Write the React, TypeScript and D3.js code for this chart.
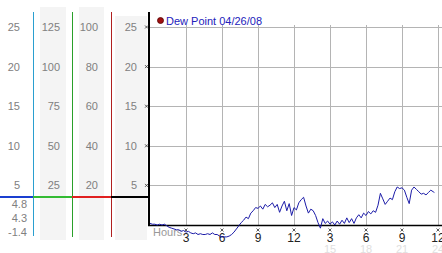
import React from "react";
import * as d3 from "d3";

const W = 442;
const H = 253;

// Dew point series: [hour, value]
const hours: number[] = [
  0.0, 0.2, 0.4, 0.6, 0.8, 1.0, 1.2, 1.4, 1.6, 1.8, 2.0, 2.2, 2.4, 2.6, 2.8, 3.0, 3.2, 3.4, 3.6, 3.8,
  4.0, 4.2, 4.4, 4.6, 4.8, 5.0, 5.2, 5.4, 5.6, 5.8, 6.0, 6.2, 6.4, 6.6, 6.8, 7.0, 7.2, 7.4, 7.6, 7.8,
  8.0, 8.2, 8.4, 8.6, 8.8, 9.0, 9.2, 9.4, 9.6, 9.8, 10.0, 10.2, 10.4, 10.6, 10.8, 11.0, 11.2, 11.4, 11.6, 11.8,
  12.0, 12.2, 12.4, 12.6, 12.8, 13.0, 13.2, 13.4, 13.6, 13.8, 14.0, 14.2, 14.4, 14.6, 14.8, 15.0, 15.2, 15.4, 15.6, 15.8,
  16.0, 16.2, 16.4, 16.6, 16.8, 17.0, 17.2, 17.4, 17.6, 17.8, 18.0, 18.2, 18.4, 18.6, 18.8, 19.0, 19.2, 19.4, 19.6, 19.8,
  20.0, 20.2, 20.4, 20.6, 20.8, 21.0, 21.2, 21.4, 21.6, 21.8, 22.0, 22.2, 22.4, 22.6, 22.8, 23.0, 23.2, 23.4, 23.6, 23.7,
];
const dewPoint: number[] = [
  0.2, 0.1, 0.1, 0.0, 0.1, 0.0, 0.1, -0.1, -0.3, -0.4, -0.5, -0.6, -0.6, -0.8, -0.7, -0.9, -0.8, -1.0, -1.1, -1.0,
  -1.2, -1.1, -1.2, -1.2, -1.1, -1.2, -1.0, -1.2, -1.2, -1.4, -1.5, -1.5, -1.5, -1.4, -1.2, -0.9, -0.5, -0.1, 0.3, 0.6,
  1.0, 0.8, 1.5, 1.8, 2.2, 2.1, 2.4, 2.0, 2.6, 2.3, 2.5, 2.8, 2.2, 2.6, 1.6, 2.4, 3.0, 1.8, 2.7, 1.2,
  2.2, 1.9, 2.8, 3.2, 3.5, 2.4, 1.5, 2.0, 1.8, 1.2, 0.3, -0.4, 0.8, 0.2, 0.5, 0.1, 0.4, 0.0, 0.5, 0.1,
  0.6, 0.2, 0.9, 0.3, 0.8, 0.2, 0.9, 1.3, 0.9, 1.5, 1.2, 1.7, 1.4, 1.8, 1.6, 2.5, 4.0, 3.3, 2.6, 3.0,
  3.4, 3.2, 4.2, 4.8, 4.6, 4.7, 4.4, 3.5, 2.7, 4.4, 4.8, 4.5, 4.2, 3.9, 4.0, 3.8, 4.1, 4.4, 4.2, 4.1,
];

const yTicks: number[] = [25, 20, 15, 10, 5];
const col2Labels: string[] = ["125", "100", "75", "50", "25"];
const col3Labels: string[] = ["100", "80", "60", "40", "20"];
const xTickHours: number[] = [3, 6, 9, 12, 15, 18, 21, 24];
const xTickLabels: string[] = ["3", "6", "9", "12", "3", "6", "9", "12"];
const xTickLabels2: string[] = ["", "", "", "", "15", "18", "21", "24"];
const readouts: string[] = ["4.8", "4.3", "-1.4"];
const legendLabel = "Dew Point 04/26/08";

const FONT = "'Liberation Sans', Arial, sans-serif";

function Cross({ x, y }: { x: number; y: number }) {
  return (
    <g stroke="#333" strokeWidth={0.8}>
      <line x1={x - 1.5} y1={y - 1.5} x2={x + 1.5} y2={y + 1.5} />
      <line x1={x - 1.5} y1={y + 1.5} x2={x + 1.5} y2={y - 1.5} />
    </g>
  );
}

export default function App() {
  const x = d3.scaleLinear().domain([0, 24]).range([150, 438]);
  const y = d3.scaleLinear().domain([0, 25]).range([225, 27]);
  const pts: [number, number][] = hours.map((h, i) => [h, dewPoint[i]]);
  const line = d3
    .line<[number, number]>()
    .x((d) => x(d[0]))
    .y((d) => y(d[1]));

  const barY = 197;

  return (
    <svg
      width={W}
      height={H}
      style={{ position: "absolute", left: 0, top: 0, background: "#fff" }}
      fontFamily={FONT}
    >
      {/* left panel column backgrounds */}
      <rect x={40} y={7} width={26} height={233} fill="#f4f4f4" />
      <rect x={79} y={7} width={25} height={233} fill="#f4f4f4" />
      <rect x={115} y={16} width={32} height={224} fill="#f4f4f4" />

      {/* left column labels */}
      {yTicks.map((v, i) => (
        <g key={v} fontSize={11} fill="#808080">
          <text x={20} y={y(v) + 4} textAnchor="end">{v}</text>
          <text x={60} y={y(v) + 4} textAnchor="end">{col2Labels[i]}</text>
          <text x={98} y={y(v) + 4} textAnchor="end">{col3Labels[i]}</text>
          <text x={137} y={y(v) + 4} textAnchor="end">{v}</text>
        </g>
      ))}
      {readouts.map((r, i) => (
        <text key={r} x={27} y={208 + i * 14} textAnchor="end" fontSize={11} fill="#808080">
          {r}
        </text>
      ))}

      {/* colored vertical lines */}
      <line x1={33.5} y1={12} x2={33.5} y2={236} stroke="#2a9fd0" strokeWidth={1} />
      <line x1={72.5} y1={12} x2={72.5} y2={237} stroke="#2aa02a" strokeWidth={1} />
      <line x1={111.5} y1={12} x2={111.5} y2={237} stroke="#b02020" strokeWidth={1} />

      {/* colored horizontal bar */}
      <line x1={0} y1={barY} x2={33} y2={barY} stroke="#1a3fd0" strokeWidth={2} />
      <line x1={33} y1={barY} x2={72} y2={barY} stroke="#33bb33" strokeWidth={2} />
      <line x1={72} y1={barY} x2={111} y2={barY} stroke="#e02020" strokeWidth={2} />
      <line x1={111} y1={barY} x2={150} y2={barY} stroke="#000" strokeWidth={2} />

      {/* grid */}
      {yTicks.map((v) => (
        <line key={"h" + v} x1={150} x2={W} y1={Math.round(y(v)) + 0.5} y2={Math.round(y(v)) + 0.5} stroke="#b4b4b4" />
      ))}
      {xTickHours.map((h) => (
        <line key={"v" + h} x1={Math.round(x(h)) + 0.5} x2={Math.round(x(h)) + 0.5} y1={25} y2={225} stroke="#b4b4b4" />
      ))}

      {/* axes */}
      <line x1={149} y1={12} x2={149} y2={226} stroke="#000" strokeWidth={2} />
      <line x1={148} y1={225.5} x2={W} y2={225.5} stroke="#000" strokeWidth={1.5} />

      {/* y tick marks */}
      {yTicks.map((v) => (
        <Cross key={"yc" + v} x={146.5} y={y(v)} />
      ))}

      {/* x tick marks & labels */}
      {xTickHours.map((h, i) => (
        <g key={"xt" + h}>
          <Cross x={x(h)} y={230} />
          <text x={x(h)} y={242} textAnchor="middle" fontSize={12} fill="#222">
            {xTickLabels[i]}
          </text>
          {xTickLabels2[i] && (
            <text x={x(h)} y={253} textAnchor="middle" fontSize={11} fill="#e0e0e0">
              {xTickLabels2[i]}
            </text>
          )}
        </g>
      ))}
      <text x={153} y={236} fontSize={11} fill="#999">Hours</text>

      {/* data line */}
      <path d={line(pts) || ""} fill="none" stroke="#1c1ca8" strokeWidth={1} />

      {/* legend */}
      <circle cx={160.5} cy={20.5} r={3} fill="#a01010" stroke="#500" strokeWidth={0.8} />
      <text x={166} y={24.5} fontSize={11.5} fill="#2222bb" textLength={96} lengthAdjust="spacingAndGlyphs">
        {legendLabel}
      </text>
    </svg>
  );
}
